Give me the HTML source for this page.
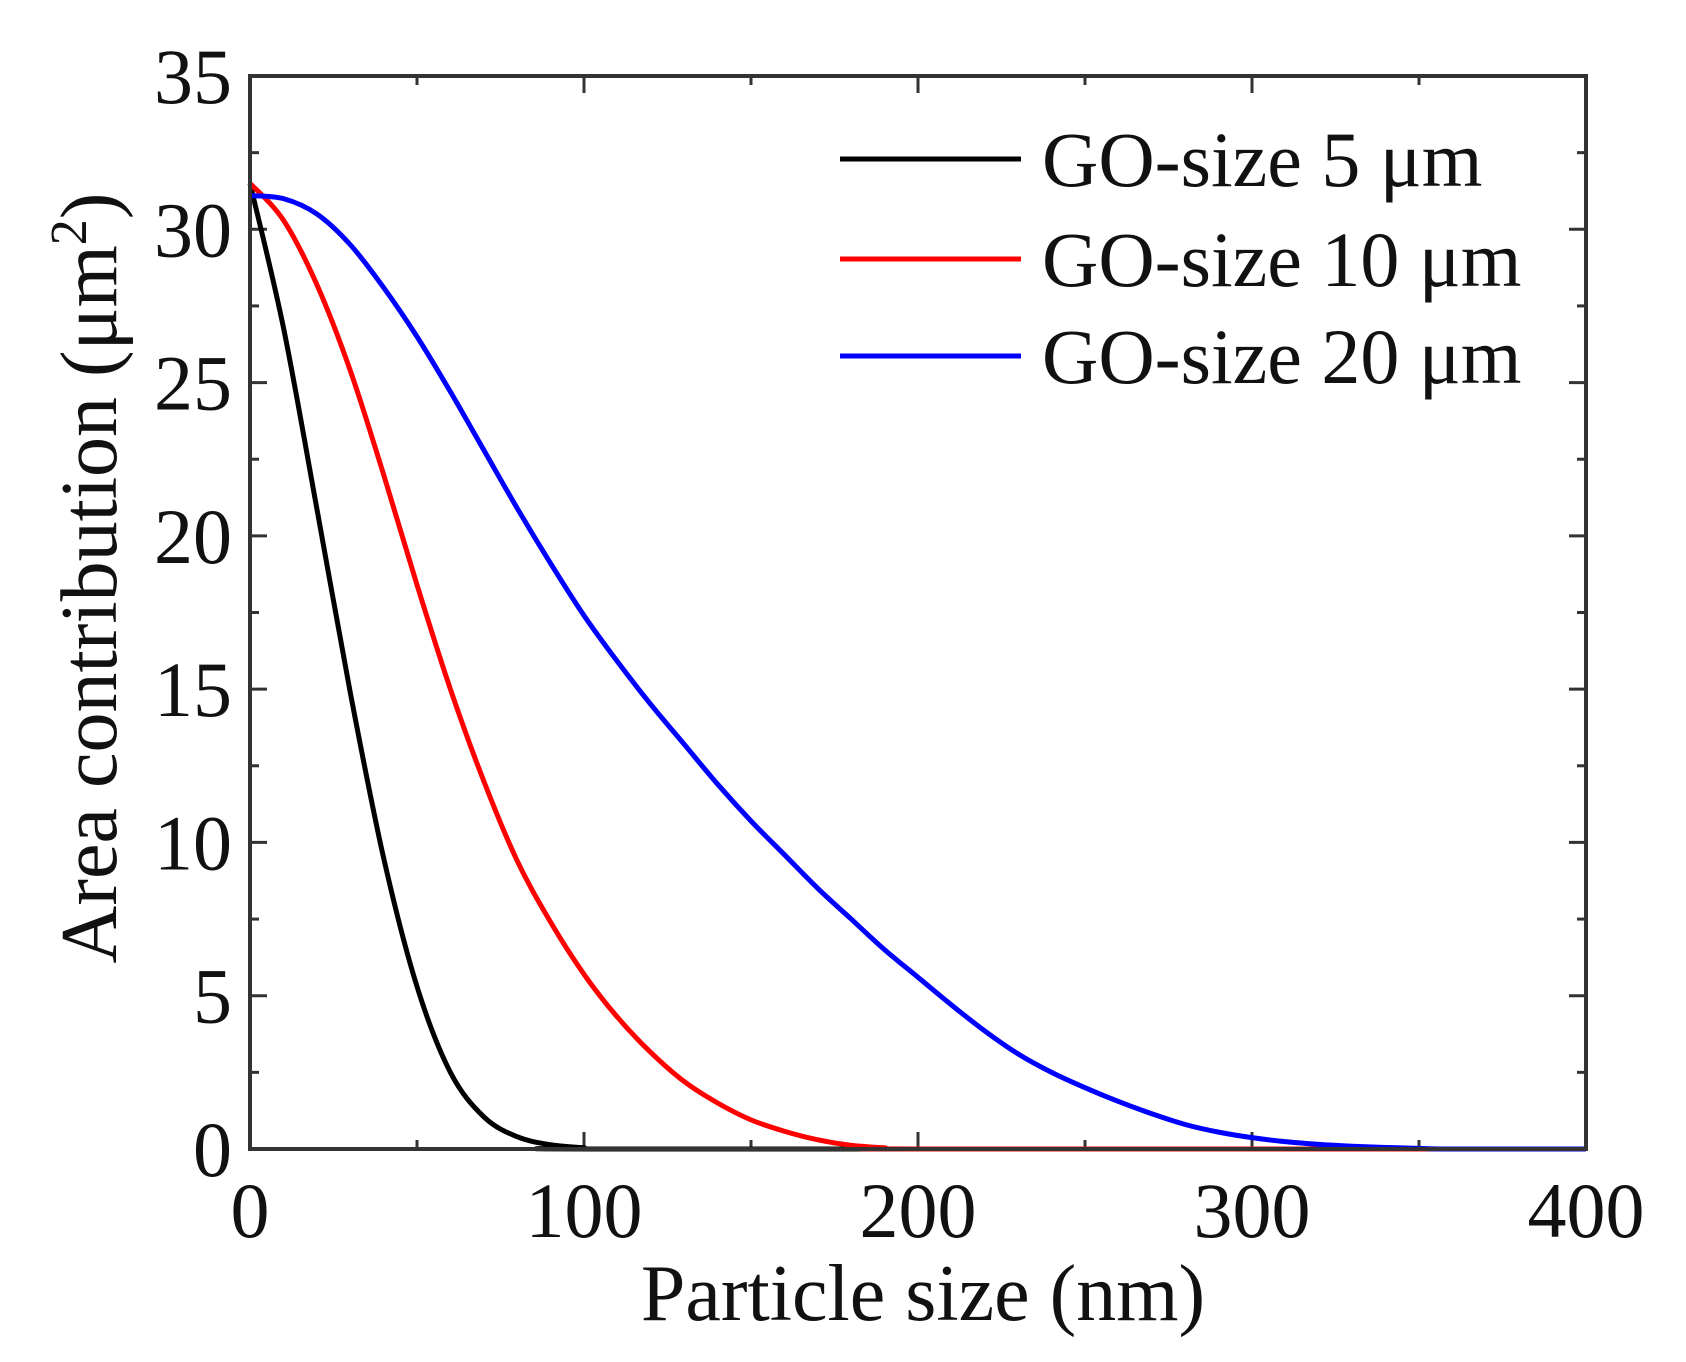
<!DOCTYPE html>
<html><head><meta charset="utf-8"><style>
html,body{margin:0;padding:0;background:#fff;}
svg{display:block;font-family:"Liberation Serif",serif;}
</style></head><body>
<svg id="s" width="1686" height="1362" viewBox="0 0 1686 1362" xmlns="http://www.w3.org/2000/svg">
<g id="ticks" stroke="#333" stroke-width="3"></g>
<g id="curves" fill="none" stroke-width="5" stroke-linejoin="round"></g>
<rect x="250" y="76" width="1336" height="1073" fill="none" stroke="#333" stroke-width="4"/>
<g font-size="78" fill="#111" text-anchor="end" id="yl"></g>
<g font-size="78" fill="#111" text-anchor="middle" id="xl"></g>
<text x="923" y="1320" font-size="80" text-anchor="middle" fill="#111">Particle size (nm)</text>
<text transform="translate(116,578) rotate(-90)" font-size="80" text-anchor="middle" fill="#111">Area contribution (μm<tspan dy="-30" font-size="52">2</tspan><tspan dy="30">)</tspan></text>
<g font-size="78" fill="#111">
<line x1="840" y1="159" x2="1021" y2="159" stroke="#000" stroke-width="5"/>
<text x="1042" y="186">GO-size 5 μm</text>
<line x1="840" y1="259" x2="1021" y2="259" stroke="#f00" stroke-width="5"/>
<text x="1042" y="286">GO-size 10 μm</text>
<line x1="840" y1="356" x2="1021" y2="356" stroke="#00f" stroke-width="5"/>
<text x="1042" y="383">GO-size 20 μm</text>
</g>
</svg>
<script>
const NS="http://www.w3.org/2000/svg";
const X=v=>250+3.34*v, Y=v=>1149-30.657*v;
function el(t,a,p){const e=document.createElementNS(NS,t);for(const k in a)e.setAttribute(k,a[k]);p.appendChild(e);return e;}
const tk=document.getElementById('ticks');
for(let v=0;v<=400;v+=50){const x=X(v),L=v%100==0?17:9;
 el('line',{x1:x,y1:1149,x2:x,y2:1149-L},tk);el('line',{x1:x,y1:76,x2:x,y2:76+L},tk);}
for(let v=0;v<=35;v+=2.5){const y=Y(v),L=v%5==0?17:9;
 el('line',{x1:250,y1:y,x2:250+L,y2:y},tk);el('line',{x1:1586,y1:y,x2:1586-L,y2:y},tk);}
const yl=document.getElementById('yl');
for(let v=0;v<=35;v+=5){const t=el('text',{x:232,y:Y(v)+27},yl);t.textContent=v;}
const xl=document.getElementById('xl');
for(let v=0;v<=400;v+=100){const t=el('text',{x:X(v),y:1237},xl);t.textContent=v;}
const data={
"#000":[[0,31.5],[10,26.8],[20,20.9],[30,14.9],[40,9.5],[50,5.3],[60,2.5],[70,1.05],[80,0.4],[90,0.14],[100,0.04],[110,0],[400,0]],
"#f00":[[0,31.5],[10,30.3],[20,28.2],[30,25.4],[40,22],[50,18.4],[60,15],[70,12],[80,9.4],[90,7.4],[100,5.7],[110,4.3],[120,3.15],[130,2.2],[140,1.5],[150,0.95],[160,0.58],[170,0.3],[180,0.12],[190,0.04],[200,0],[400,0]],
"#00f":[[0,31.1],[10,31.0],[20,30.5],[30,29.5],[40,28.1],[50,26.5],[60,24.7],[70,22.8],[80,20.9],[90,19.1],[100,17.4],[110,15.9],[120,14.5],[130,13.2],[140,11.9],[150,10.7],[160,9.6],[170,8.5],[180,7.5],[190,6.5],[200,5.6],[210,4.7],[220,3.85],[230,3.1],[240,2.5],[250,2],[260,1.55],[270,1.15],[280,0.8],[290,0.55],[300,0.37],[310,0.24],[320,0.15],[330,0.09],[340,0.05],[350,0.02],[360,0],[400,0]]};
const cg=document.getElementById('curves');
for(const c in data){const p=data[c];let d="M"+X(p[0][0])+","+Y(p[0][1]);
 for(let i=0;i<p.length-1;i++){const a=p[Math.max(0,i-1)],b=p[i],q=p[i+1],r=p[Math.min(p.length-1,i+2)];
  const c1=[b[0]+(q[0]-a[0])/6,b[1]+(q[1]-a[1])/6],c2=[q[0]-(r[0]-b[0])/6,q[1]-(r[1]-b[1])/6];
  if(q[0]-b[0]>50){c1[1]=b[1];c2[1]=q[1];c1[0]=b[0]+10;c2[0]=q[0]-10;}
  d+=" C"+X(c1[0])+","+Y(c1[1])+" "+X(c2[0])+","+Y(c2[1])+" "+X(q[0])+","+Y(q[1]);}
 el('path',{d:d,stroke:c},cg);}
</script>
</body></html>
